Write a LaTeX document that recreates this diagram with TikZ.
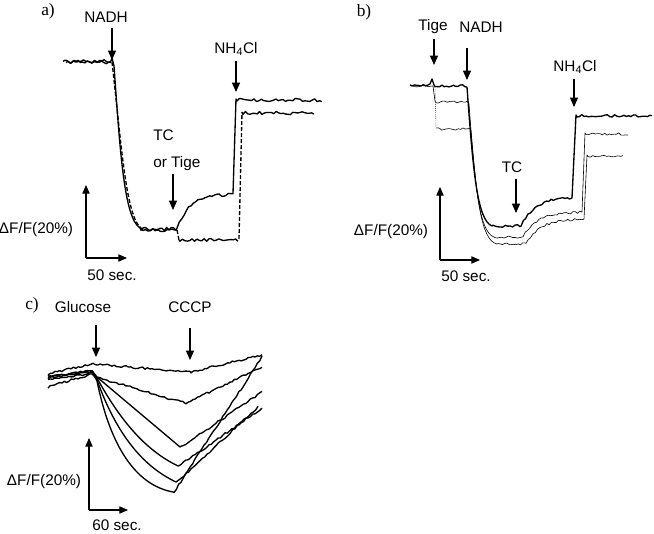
\documentclass[tikz,border=0pt]{standalone}
\usepackage{fontspec}
\setmainfont{Liberation Sans}
\newfontfamily\panelfont{Liberation Serif}
\usetikzlibrary{arrows.meta}

\tikzset{
  trace/.style={line width=1pt, line join=round},
  faint/.style={line width=0.45pt, line join=round},
  tag/.style={inner sep=0pt, font=\fontsize{11.5}{13}\selectfont},
  panel/.style={inner sep=0pt, font=\panelfont\fontsize{13}{15}\selectfont},
  pointer/.style={line width=0.9pt, -{Triangle[length=7pt,width=6pt]}},
  scalebar/.style={line width=0.8pt, -{Triangle[length=6.5pt,width=5.5pt]}}
}

\begin{document}
\begin{tikzpicture}[x=0.75pt, y=-0.75pt]
  \useasboundingbox (0,0) rectangle (654,534);
  \pgfmathsetseed{7}

  % Panel a
  \node[panel] (lblA) at (48,11) {a)};
  \node[tag] (nadhA) at (106,17) {NADH};
  \node[tag] (nhA) at (236,49) {NH\textsubscript{4}Cl};
  \node[tag, anchor=west] (tcA) at (153,135) {TC};
  \node[tag, anchor=west] (tigeA) at (153,164) {or Tige};
  \coordinate (nadhAtip) at (112,60);
  \coordinate (nhAtip) at (236,92);
  \coordinate (tcAtip) at (173,210);
  \draw[pointer] (nadhA.south -| nadhAtip) ++(0,5) -- (nadhAtip);
  \draw[pointer] (nhA.south -| nhAtip) ++(0,5) -- (nhAtip);
  \draw[pointer] (tigeA.south -| tcAtip) ++(0,3) -- (tcAtip);

  \draw[trace] plot[domain=63:111,samples=22] (\x,{61+1.7*rand})
    -- (112,58) -- (114,66)
    .. controls (120,150) and (124,218) .. (140,228)
    -- plot[domain=141:176,samples=16] (\x,{229+1.6*rand})
    -- plot[domain=177:233,samples=25] (\x,{228-34*(1-exp(-(\x-177)/13))+1.5*rand})
    -- (236,99)
    -- plot[domain=237:322,samples=36] (\x,{100+1.7*rand});
  \draw[trace] plot[domain=66:111,samples=20] (\x,{62+1.7*rand});
  \draw[trace, dash pattern=on 3pt off 1.5pt] (112,62)
    .. controls (122,150) and (126,218) .. (142,229);
  \draw[trace] (142,229) -- plot[domain=143:177,samples=15] (\x,{230+1.6*rand});
  \draw[trace, dash pattern=on 3pt off 1.5pt] (177,230) -- (179,240);
  \draw[trace] (179,240) -- plot[domain=180:238,samples=25] (\x,{240+1.4*rand});
  \draw[trace, dash pattern=on 3pt off 1.5pt] (239,239) -- (242,112);
  \draw[trace] (242,112) -- plot[domain=243:314,samples=31] (\x,{113+1.6*rand});

  \node[tag] (dffA) at (36,230) {ΔF/F(20\%)};
  \node[tag] (secA) at (112,275) {50 sec.};
  \coordinate (barA) at (86,258);
  \coordinate (barAup) at (86,185);
  \coordinate (barAright) at (127,258);
  \draw[scalebar] (barA) -- (barAup);
  \draw[scalebar] (barA) -- (barAright);

  % Panel b
  \node[panel] (lblB) at (364,12) {b)};
  \node[tag] (tigeB) at (433,27) {Tige};
  \node[tag] (nadhB) at (481,27) {NADH};
  \node[tag] (nhB) at (575,67) {NH\textsubscript{4}Cl};
  \node[tag] (tcB) at (512,167) {TC};
  \coordinate (tigeBtip) at (434,65);
  \coordinate (nadhBtip) at (467,80);
  \coordinate (nhBtip) at (574,107);
  \coordinate (tcBtip) at (516,213);
  \draw[pointer] (tigeB.south -| tigeBtip) ++(0,5) -- (tigeBtip);
  \draw[pointer] (nadhB.south -| nadhBtip) ++(0,15) -- (nadhBtip);
  \draw[pointer] (nhB.south -| nhBtip) ++(0,5) -- (nhBtip);
  \draw[pointer] (tcB.south -| tcBtip) ++(0,6) -- (tcBtip);

  \draw[trace] plot[domain=410:430,samples=10] (\x,{85+1.2*rand})
    -- (432,79) -- (434,85)
    -- plot[domain=435:465,samples=14] (\x,{86+1.3*rand})
    -- (467,87) .. controls (473,170) and (477,220) .. (492,226)
    -- plot[domain=493:520,samples=12] (\x,{226+1.3*rand})
    -- plot[domain=521:572,samples=23] (\x,{226-29*(1-exp(-(\x-521)/14))+1.3*rand})
    -- (576,115)
    -- plot[domain=577:652,samples=33] (\x,{116+1.5*rand});
  \draw[faint] plot[domain=412:433,samples=10] (\x,{86+0.8*rand})
    -- (435,101)
    -- plot[domain=436:468,samples=15] (\x,{102+1.2*rand})
    -- (469,104) .. controls (475,185) and (479,232) .. (494,237)
    -- plot[domain=495:522,samples=13] (\x,{237+1.2*rand})
    -- plot[domain=523:582,samples=27] (\x,{237-25*(1-exp(-(\x-523)/14))+1.2*rand})
    -- (585,133)
    -- plot[domain=586:628,samples=19] (\x,{134+1.2*rand});
  \draw[faint, densely dotted] (435,87) -- (436,127);
  \draw[faint] (436,128)
    -- plot[domain=437:470,samples=15] (\x,{129+1.2*rand})
    -- (471,131) .. controls (477,200) and (481,240) .. (497,244)
    -- plot[domain=498:525,samples=13] (\x,{244+1.2*rand})
    -- plot[domain=526:584,samples=26] (\x,{244-25*(1-exp(-(\x-526)/14))+1.2*rand})
    -- (587,155)
    -- plot[domain=588:623,samples=16] (\x,{156+1.2*rand});

  \node[tag] (dffB) at (391,232) {ΔF/F(20\%)};
  \node[tag] (secB) at (466,276) {50 sec.};
  \coordinate (barB) at (440,260);
  \coordinate (barBup) at (440,187);
  \coordinate (barBright) at (480,260);
  \draw[scalebar] (barB) -- (barBup);
  \draw[scalebar] (barB) -- (barBright);

  % Panel c
  \node[panel] (lblC) at (32,305) {c)};
  \node[tag] (glucC) at (83,307) {Glucose};
  \node[tag] (cccpC) at (190,307) {CCCP};
  \coordinate (glucCtip) at (96,357);
  \coordinate (cccpCtip) at (190,360);
  \draw[pointer] (glucC.south -| glucCtip) ++(0,12) -- (glucCtip);
  \draw[pointer] (cccpC.south -| cccpCtip) ++(0,15) -- (cccpCtip);

  \draw[trace] plot[domain=48:92,samples=20] (\x,{374-10*(\x-48)/44+1.1*rand})
    -- plot[domain=93:190,samples=42] (\x,{364+8*(\x-93)/97+1.1*rand})
    -- plot[domain=191:262,samples=32] (\x,{372-17*(\x-191)/71+1.1*rand});
  \draw[trace] plot[domain=48:92,samples=20] (\x,{387-13*(\x-48)/44+1.1*rand})
    -- plot[domain=96:185,samples=40] (\x,{377+26*(\x-96)/89+1.1*rand})
    -- plot[domain=186:262,samples=34] (\x,{403-36*(\x-186)/76+1.1*rand});
  \draw[trace] plot[domain=48:92,samples=20] (\x,{378-8*(\x-48)/44+1.1*rand})
    -- (97,377) .. controls (130,405) and (160,430) .. (180,447)
    -- plot[domain=181:262,samples=36] (\x,{447-55*(\x-181)/81+1.1*rand});
  \draw[trace] plot[domain=48:92,samples=20] (\x,{376-4*(\x-48)/44+1.1*rand})
    -- (97,378) .. controls (120,420) and (145,450) .. (178,466)
    -- plot[domain=179:262,samples=37] (\x,{466-58*(\x-179)/83+1.1*rand});
  \draw[trace] plot[domain=48:92,samples=20] (\x,{380-7*(\x-48)/44+1.1*rand})
    -- (97,380) .. controls (115,430) and (140,465) .. (176,482)
    -- plot[domain=177:258,samples=36] (\x,{482-75*(\x-177)/81+1.1*rand});
  \draw[trace] plot[domain=48:92,samples=20] (\x,{377-5*(\x-48)/44+1.1*rand})
    -- (97,381) .. controls (110,445) and (135,485) .. (173,492)
    -- plot[domain=174:262,samples=39] (\x,{492-135*(\x-174)/88+1.1*rand});

  \node[tag] (dffC) at (44,482) {ΔF/F(20\%)};
  \node[tag] (secC) at (117,525) {60 sec.};
  \coordinate (barC) at (89,510);
  \coordinate (barCup) at (89,438);
  \coordinate (barCright) at (128,510);
  \draw[scalebar] (barC) -- (barCup);
  \draw[scalebar] (barC) -- (barCright);
\end{tikzpicture}
\end{document}
